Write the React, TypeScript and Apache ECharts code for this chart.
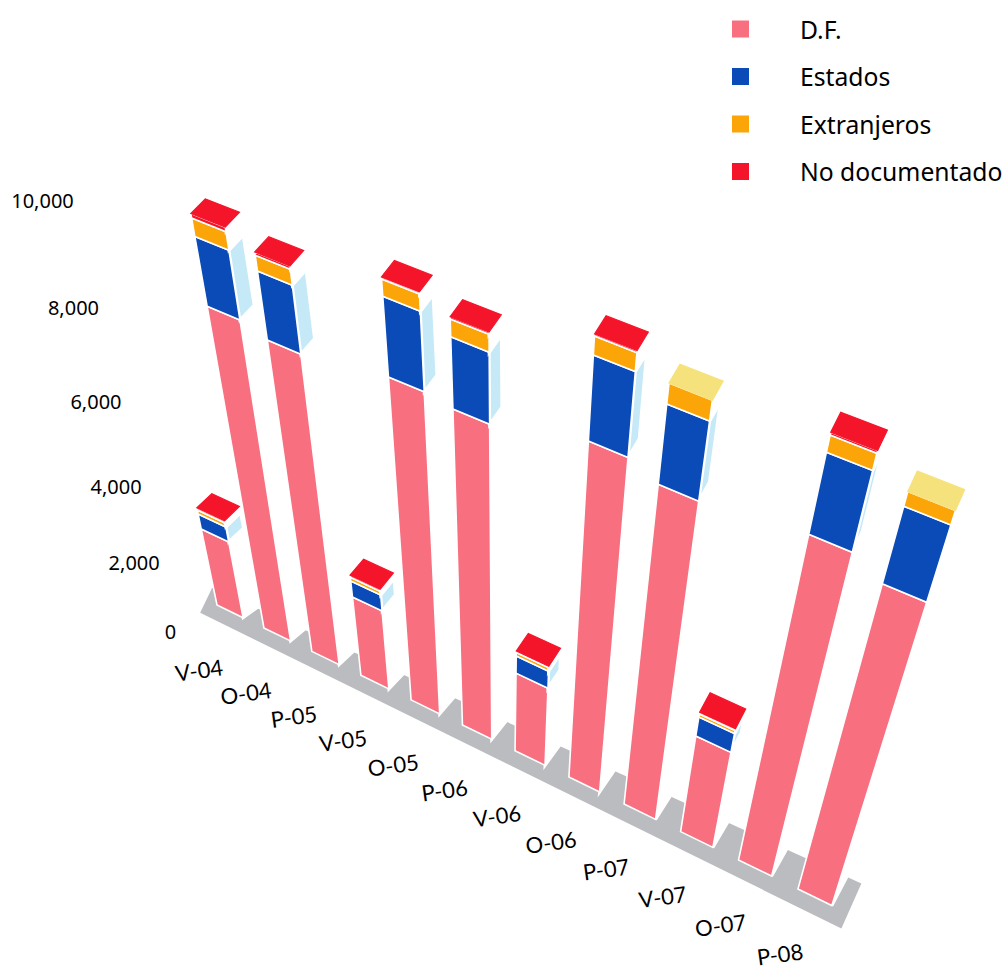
import React, { useEffect, useRef } from "react";
import * as echarts from "echarts";

const categories = ["V-04", "O-04", "P-05", "V-05", "O-05", "P-06", "V-06", "O-06", "P-07", "V-07", "O-07", "P-08"];
const yTicks = [0, 2000, 4000, 6000, 8000, 10000];
const df = [2204, 7982, 7797, 2306, 8089, 7984, 2332, 8463, 8188, 2914, 8421, 8072];
const estados = [406, 1339, 1340, 436, 1532, 1388, 475, 1599, 1530, 523, 1553, 1516];
const extranjeros = [108, 339, 294, 99, 309, 327, 98, 330, 374, 85, 303, 267];
const noDocumentado = [60, 81, 60, 60, 37, 41, 40, 36, 0, 49, 50, 0];

const layers = [
  { name: "D.F.", values: df, color: "#f86f80", side: "#ffffff", cap: "#f86f80" },
  { name: "Estados", values: estados, color: "#0a4bb8", side: "#c6e9f8", cap: "#0a4bb8" },
  { name: "Extranjeros", values: extranjeros, color: "#fba508", side: "#ffffff", cap: "#f6e27c" },
  { name: "No documentado", values: noDocumentado, color: "#f5152b", side: "#ffffff", cap: "#f5152b" },
];

const FONT = "'Noto Sans', sans-serif";
const G = { left: 100, top: 100, size: 800 };
const BAR = 0.56;

// perspective: maps the flat grid onto the picture's tilted plane
function project(api: any, u: number, v: number): [number, number] {
  const p = api.coord([u, v]);
  const s = (p[0] - G.left) / G.size;
  const t = (G.top + G.size - p[1]) / G.size;
  const w = 1 - 0.122 * s - 0.24 * t;
  return [(483.6 * s - 120 * t + 217) / w, (175.5 * s - 472 * t + 605) / w];
}

function depth(u: number, v: number): [number, number] {
  const t = Math.max(0, Math.min(1, (v / 10000) * 4));
  const dx = 15 - 0.5 * u * t;
  const dy = -(10 + 1.6 * u) * (1 - t) - (14 + 0.6 * u) * t;
  return [dx, dy];
}

const add = (p: number[], d: number[]) => [p[0] + d[0], p[1] + d[1]];

function layerRender(index: number) {
  return (_: any, api: any) => {
    const i = api.value(0);
    const base = api.value(1);
    const top = api.value(2);
    const layer = layers[index];
    if (top <= base) return { type: "group", children: [] };
    const fl = project(api, i, base);
    const fr = project(api, i + BAR, base);
    const tl = project(api, i, top);
    const tr = project(api, i + BAR, top);
    const dBase = depth(i + BAR, base);
    const dTop = depth(i + BAR, top);
    const children: any[] = [];
    children.push({
      type: "polygon",
      shape: { points: [fr, tr, add(tr, dTop), add(fr, dBase)] },
      style: { fill: layer.side, stroke: "#ffffff", lineWidth: 3 },
    });
    children.push({
      type: "polygon",
      shape: { points: [fl, fr, tr, tl] },
      style: { fill: layer.color, stroke: "#ffffff", lineWidth: 1.6 },
    });
    const isTop = layers.slice(index + 1).every((l) => l.values[i] === 0);
    if (isTop) {
      const dL = depth(i, top);
      children.push({
        type: "polygon",
        shape: { points: [tl, tr, add(tr, dTop), add(tl, dL)] },
        style: { fill: layer.cap, stroke: layer.cap, lineWidth: 1.2 },
      });
    }
    return { type: "group", children };
  };
}

function floorRender(_: any, api: any) {
  const fa = project(api, -0.45, -550);
  const fb = project(api, 11.8, -550);
  return {
    type: "polygon",
    shape: { points: [fa, fb, add(fb, [20, -45]), add(fa, [12, -25])] },
    style: { fill: "#babcbf" },
  };
}

function xLabelRender(_: any, api: any) {
  const i = api.value(0);
  const p = project(api, i, 0);
  return {
    type: "text",
    x: p[0] - 18,
    y: p[1] + 65,
    rotation: (8 * Math.PI) / 180,
    style: {
      text: categories[i],
      fill: "#000000",
      font: `22px Lato, sans-serif`,
      textAlign: "center",
      textVerticalAlign: "middle",
    },
  };
}

function yLabelRender(_: any, api: any) {
  const v = api.value(1);
  const p = project(api, -1, v);
  return {
    type: "text",
    x: p[0] + 5,
    y: p[1] + 49,
    style: {
      text: v.toLocaleString("en-US"),
      fill: "#000000",
      font: `20px ${FONT}`,
      textAlign: "right",
      textVerticalAlign: "middle",
    },
  };
}

export default function App() {
  const ref = useRef<HTMLDivElement>(null);
  useEffect(() => {
    const chart = echarts.init(ref.current!, undefined, { renderer: "svg" });
    const running = categories.map(() => 0);
    const layerSeries = layers.map((l, idx) => {
      const data = l.values.map((val, i) => {
        const base = running[i];
        running[i] += val;
        return [i, base, running[i]];
      });
      return {
        type: "custom",
        name: l.name,
        color: l.color,
        itemStyle: { color: l.color },
        coordinateSystem: "cartesian2d",
        renderItem: layerRender(idx),
        encode: { x: 0, y: 2 },
        data,
        z: 3 + idx,
        silent: true,
      };
    });
    chart.setOption({
      animation: false,
      backgroundColor: "#ffffff",
      grid: { left: G.left, top: G.top, width: G.size, height: G.size },
      xAxis: { type: "value", min: 0, max: 11, show: false },
      yAxis: { type: "value", min: 0, max: 10000, show: false },
      legend: {
        orient: "vertical",
        left: 732,
        top: 15,
        padding: 0,
        icon: "rect",
        itemWidth: 17,
        itemHeight: 17,
        itemGap: 19.5,
        selectedMode: false,
        data: layers.map((l) => l.name),
        textStyle: {
          fontFamily: FONT,
          fontSize: 24.7,
          lineHeight: 28,
          color: "#000000",
          padding: [0, 0, 0, 46],
        },
      },
      series: [
        {
          type: "custom",
          name: "floor",
          renderItem: floorRender,
          data: [[0, 0]],
          z: 1,
          silent: true,
        },
        ...layerSeries,
        {
          type: "custom",
          name: "xlabels",
          renderItem: xLabelRender,
          data: categories.map((_, i) => [i, 0]),
          z: 10,
          silent: true,
        },
        {
          type: "custom",
          name: "ylabels",
          renderItem: yLabelRender,
          data: yTicks.map((v) => [0, v]),
          z: 10,
          silent: true,
        },
      ],
    });
    return () => chart.dispose();
  }, []);
  return <div ref={ref} style={{ position: "fixed", left: 0, top: 0, width: 1006, height: 970 }} />;
}
